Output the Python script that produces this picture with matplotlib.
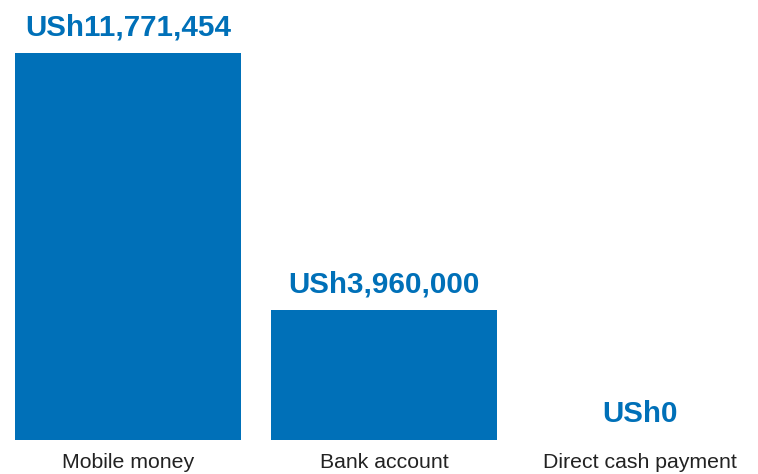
import matplotlib.pyplot as plt

categories = ["Mobile money", "Bank account", "Direct cash payment"]
amounts = [11771454, 3960000, 0]
value_labels = ["USh11,771,454", "USh3,960,000", "USh0"]

BLUE = "#0070b8"
TEXT = "#222222"

plt.rcParams["font.family"] = ["Liberation Sans", "DejaVu Sans"]

fig = plt.figure(figsize=(7.58, 4.74), dpi=100)
# axes run the full width; bottom edge sits on the bar baseline
ax = fig.add_axes([0, 34 / 474, 1, 440 / 474])

x = list(range(len(categories)))
ax.bar(x, amounts, width=226 / 256, color=BLUE)
ax.set_xlim(-0.5, -0.5 + 758 / 256)
ax.set_ylim(0, max(amounts) * 440 / 387)
ax.axis("off")

for xi, val, lab, cat in zip(x, amounts, value_labels, categories):
    ax.annotate(lab, (xi, val), xytext=(0, 12.8), textcoords="offset points",
                ha="center", va="baseline", fontsize=21.3, fontweight="bold",
                color=BLUE)
    ax.annotate(cat, (xi, 0), xytext=(0, -20.2), textcoords="offset points",
                ha="center", va="baseline", fontsize=15.3, color=TEXT,
                annotation_clip=False)

fig.savefig("out.png", dpi=100)
